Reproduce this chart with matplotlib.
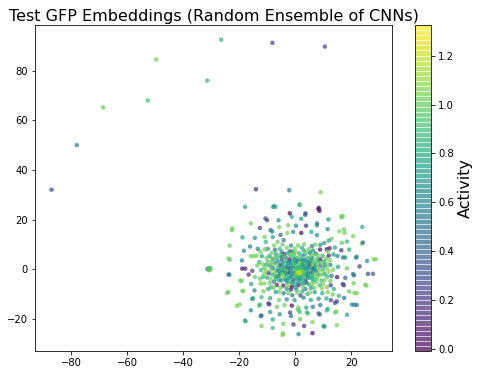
import numpy as np
import matplotlib
matplotlib.use("Agg")
import matplotlib.pyplot as plt
from matplotlib.colors import Normalize

far_pts = [(-87,32,.30),(-78,50,.55),(-68.6,65.2,1.0),(-52.6,68,.92),(-49.6,84.5,1.03),(-31.4,76,.85),
 (-26.4,92.5,.85),(-8.1,91.2,.25),(10.6,89.7,.25)]
outer_pts = [(-14,32.2,.15),(-2.1,31.8,.55),(9.1,31,1.03),(-17.9,25.1,.75),(-7.9,25.1,.85),(-7.5,25.4,.6),(-7,25,.85),
 (1.6,26.2,1.0),(1.6,25.8,.85),(8.5,24.7,.05),(8.7,23.5,.03),(8.3,24.2,.1),(-1.9,22.5,.03),(3.7,22.5,.3),(3.6,21.9,.35),
 (17,21.4,1.0),(16.7,20.8,1.02),(16.4,21.2,1.05),(-10.6,20.4,.3),(-10,19.7,.3),(-1.2,21.1,.8),(-5.9,19.7,.7),(2.2,20.3,.75),
 (11.9,20,.7),(-15.8,18.4,1.02),(-2.5,17.7,1.02),(7.8,18.4,.55),(7.8,17.7,.6),(-22.4,16.4,1.0),(-22.6,15.7,1.0),(-12.6,16.6,.25),
 (-5.7,16.9,1.02),(0.3,17.5,.6),(3.9,17.5,.2),(11.6,16.1,.6),(24,17,.8),(15.8,15.2,1.02),(17.5,16,1.0),(17.6,14.6,1.02),
 (-8.8,15.7,.5),(-8.2,15.2,.55),(-18.8,12.8,.78),(-14.4,12.6,.7),(-10.9,13,1.0),(-5.2,13.8,.4),(-2.8,14.6,1.05),(-.7,15,.6),
 (2.2,14.6,.05),(5.8,15,.8),(7.8,13.7,.7),(13,12.2,1.0),(20.7,13.3,1.05),(-23.4,9.5,1.0),(-8,13,.75),(-6.3,11,1.0),(-4.1,11.7,.5),
 (-19,3.5,.55),(-23.8,4.3,1.02),(-23.3,3.8,1.0),(-18.3,7.4,.6),(-16.1,9.1,.55),(-13.3,8.2,.5),(-9.8,8.2,.65),(-7.2,7.8,.5),
 (-4.8,6.9,.55),(-5.5,8.2,.85),(-1.5,9.5,.6),(-1.8,7.2,.3),(1,9.5,1.0),(3.2,10,1.0),(6,9.3,.55),(8.9,7.9,.05),(11.3,8,.1),
 (12.3,8.4,.08),(9,9.8,.7),(14.2,8.7,.8),(16.5,7.6,.2),(19.3,7.9,.8),(23.8,10.3,1.05),(24.2,10.7,.4),(16.7,10.6,1.0),(18.5,11.1,.85),
 (10.4,10.5,.7),(-15.8,5.2,1.02),(-14.9,5.2,1.05),(-13.8,5.4,1.0),(-11.9,5.2,.75),(-10.2,4.6,1.0),(-9.1,5.2,.8),(-8,4,.55),(-4.8,3.9,.25),
 (-2,3.9,.05),(3.4,5.8,.8),(9,3.9,.1),(12,5.4,.15),(13.7,5.9,.7),(15.1,5.3,.6),(17.9,4.7,.6),(17.1,4.7,.55),(22,5,.55),(21.7,4.6,.6),
 (25.7,3.3,.65),(28,4,1.05),(28.8,4,1.05),(10.3,3,.8),(7.4,6.3,.55),(5.5,5,1.0),(-31.3,0,.3),(-30.6,0,1.0),(-30.5,.3,1.02),(-30.3,-.2,1.0),
 (-30.8,.4,.95),(-30.2,.4,1.0),(-30.7,-.4,.98),(-31,0,.95),
 (-18.9,.2,.05),(-17.8,.2,.15),(-15.3,-.7,.25),(-16.6,-2.2,.2),(-23.8,-2.2,.5),(-23.5,-2.2,.55),(-13.5,1.5,1.0),(-12.8,2.8,.85),
 (-11.1,.5,1.0),(-9,1.4,.75),(-7.9,.4,.55),(-9.5,-1.6,.15),(-6.6,-.6,.7),(-5.5,1.5,.45),(-4.4,-.9,.1),(-3.1,1.2,.55),(-2,-1.3,.05),
 (18.5,.3,1.0),(23,1.1,.25),(15.3,.9,.75),(12.6,1.7,.6),(10.7,1.6,.55),(9,1.4,.45),(6.2,.2,.05),(7.5,-.7,.5),(4.8,1.8,.6),(3,1.5,.85),
 (15,-3.2,.05),(17.9,-3.5,.45),(21,-2.5,.4),(20.7,-2,.55),(26,-1.9,.3),(27.8,-1.9,.4),(13,-2.7,.5),(10.6,-2.1,.8),(8.3,-2.2,.6),
 (-14.3,-3.2,1.0),(-11.5,-3.1,.85),(-10,-3.4,.8),(-19.5,-4.6,1.02),(-19.1,-4.8,1.0),(-7.6,-5.1,.5),(-5.5,-3.5,1.0),(-3.7,-4,.6),
 (-15.7,-6,.8),(-12.3,-5.8,1.02),(-11,-5.8,1.05),(-8.5,-7.3,.88),(-6.5,-6.4,.15),(-4.2,-6.6,.1),(-1.2,-7,.05),(-1.5,-8.2,.1),
 (1.2,-6.5,.1),(4,-5.4,.15),(5.7,-7.6,.7),(8.8,-6.5,.85),(11.3,-7.3,1.02),(12.7,-6.5,.25),(13.8,-8,.8),(17.4,-6.5,.2),(17,-6,.25),
 (20.9,-5.7,1.0),(25,-6.3,1.05),(25.5,-6.6,1.02),(-23.8,-9.2,1.02),(-24.3,-9.6,1.0),(-18.5,-8.9,1.05),(-18.8,-8.7,1.02),(-14.5,-8.6,.6),
 (-9.6,-8,.8),(-6.9,-9.2,.7),(-4.1,-9.7,.55),(-1,-10.5,.55),(1.9,-10.6,.3),(4.4,-10,.85),(7,-9.3,.75),(9.7,-9.7,.8),(13.4,-10.2,1.0),
 (19.3,-9,1.0),(21.2,-9.6,1.05),(22,-9.7,1.05),(15.6,-10.8,.85),(17.5,-11.6,.55),(-15.4,-12,.75),(-15,-11.8,.7),(-12,-11.3,.88),
 (-8.9,-11.7,.75),(-5.8,-12.5,1.0),(-3,-12.2,.65),(-.2,-12.5,.7),(3,-11.5,.55),(5.6,-12.4,.8),(8.4,-11.9,.6),(11.2,-11.8,.8),
 (12.8,-12.5,.3),(14.3,-13.6,.25),(14.9,-13,.3),(20.3,-14.3,.6),(21.2,-14.4,.6),(22,-14.4,.55),(-19.8,-14.2,1.05),(-20.8,-14.8,1.05),
 (-12.8,-14.8,1.0),(-12.6,-14.3,.88),(-9.5,-13.9,.15),(-9.2,-14.2,.3),(-6.5,-15.2,1.0),(-3.8,-14.5,1.0),(-1.2,-14.7,.05),(4,-15.5,.8),
 (6.3,-15.2,.55),(9,-14.5,.5),(1.2,-15.5,1.0),(-15.8,-16.6,.65),(-8.9,-17.3,.7),(-1.8,-17.5,.25),(-1.5,-18.9,.5),(1,-16.3,1.0),
 (1.6,-17.2,.88),(4.6,-17.9,1.0),(4.2,-17.5,.85),(8.4,-17.9,.3),(8.8,-18.3,.45),(11.6,-16,.8),(11.3,-16.6,.85),(14.3,-17.5,1.0),
 (14.7,-17.1,1.02),(18.5,-18.4,.8),(-12,-18.7,.5),(-12.3,-18.9,.45),(-5.5,-18.2,.7),(-8,-20.3,.75),(-17.7,-21,.8),(-17.9,-20.7,.82),
 (1.8,-20.2,1.0),(6.2,-21.3,1.05),(-4.2,-22,1.0),(-.6,-22.3,.15),(3.2,-22.9,.2),(-12,-22.9,1.05),(-8,-23.7,.85),(10.1,-22.9,.75),
 (10.5,-23.2,.7),(14.9,-22.6,1.05),(-4.5,-26.5,1.05),(-4.3,-25.9,1.02),(1.2,-26.2,.6),(6.2,-25.8,.05)]
core_pts = [(-6,3,.8),(-5,1.8,.55),(-4.3,2.6,.7),(-3.4,4.7,.5),(-3.2,-2.5,.85),(-2.6,2.3,.75),(-2.4,.5,.6),(-1.9,-3.4,.7),(-1.7,5.4,.85),
 (-1.2,3,.6),(-1,-.8,.8),(-.8,1.5,.9),(-.6,-4.4,.2),(-.4,5.9,.9),(-.2,3.8,.75),(0,-2.4,.75),(.1,.6,.65),(.3,2.6,.8),(.4,-1,.95),
 (.6,4.3,.5),(.7,-3.9,.65),(.8,1.5,.95),(1,-.2,1.05),(1.1,-2.2,1.1),(1.2,.8,.85),(1.4,3.2,.75),(1.5,-1.3,1.32),(1.7,-.6,1.2),
 (1.8,-1.9,1.25),(1.9,.2,.9),(2,1.9,.8),(2.1,-3.3,.6),(2.3,-.9,1.1),(2.5,.9,.7),(2.7,-2.4,.85),(2.9,3.6,.9),(3.1,-.1,.65),(3.3,-1.4,.75),
 (3.5,-4.5,.3),(3.7,1,.7),(3.9,-2.7,.75),(4.2,-.8,.9),(4.4,2.9,.6),(4.7,-1.6,.45),(5,.8,.5),(5.3,-3.4,.85),(5.6,3.3,.95),(5.9,-1.4,.15),
 (6.3,-3,.8),(6.8,2.4,.75),(7.2,-4.2,.9),(-2.9,-5.3,.85),(-5.4,-1.9,.7),(-6.8,-3,.95),(-7,2.6,.6),(-4,6,.15),(-1,7,.6),(3.2,7.5,.8),
 (6.4,7.5,.7),(-3,-8,.7),(.5,-8.3,.85),(3.7,-8,.5),(6.5,-4.8,.9),(9.4,-4.6,.9),(-2.5,-1.7,.65),(-3.6,.2,.85),(.9,-5.6,.6),(2.6,-5.9,.7),
 (-.2,-6,.9),(-5.8,-4.6,.95),(4.9,-6.2,.8),(8,4,.8),(5.4,2,.3),(7.5,1.4,.9)]
dense_pts = [(-8.4,6.6,1.0),(-6.9,6,.75),(-5.6,5.6,1.0),(-4.2,5.2,1.05),(-2.8,6.4,.8),(-1.2,6.1,1.05),(.2,7,1.02),(1.5,6.4,.85),(2.6,5.4,.75),
 (4.2,6.7,1.05),(5.3,6.6,.6),(6.6,5.6,1.0),(8.2,5.5,1.05),(9.8,5.4,.85),(11,4.2,1.0),(12.4,3.6,1.05),(-9.8,3.2,1.0),(-8.8,2.8,1.05),(-7.4,4.6,1.05),
 (-6.4,4.4,.85),(-4.8,5,.7),(-3.1,3.2,.8),(-2.1,2.6,.65),(-.5,4.4,.85),(1.1,4.9,1.02),(2.1,3.9,.7),(3.5,3.8,.55),(4.6,4.4,.85),(6.1,4.2,.7),
 (7.2,3.4,1.05),(8.4,2.8,.85),(9.6,2.5,1.02),(11.4,2.2,1.05),(-11.6,2,1.05),(-10.3,1.8,.85),(-8.1,2,1.0),(-6.6,1.6,1.05),(-5.9,.3,.8),(-4.3,1,.75),
 (-2.9,.2,.6),(-1.6,1.4,.7),(-.3,2.4,.85),(.7,3,.7),(1.6,2.4,1.05),(2.9,2.4,.65),(3.9,2.4,.85),(5.1,2.8,.65),(6.2,1.9,1.05),(7,.9,.7),(8.2,.6,1.05),
 (9.9,.3,.85),(11.4,.4,1.05),(13.6,-.2,1.0),(-12.2,-.4,.85),(-10.4,-.5,1.05),(-8.7,-.2,1.0),(-7.4,-1.3,1.05),(-5.7,-.9,.6),(-4.8,-.1,.85),(-3.3,-.7,1.0),
 (-1.7,.2,.55),(-.9,.4,.75),(0,-.5,1),(.6,.2,.9),(1.5,.5,.85),(2.4,.3,.95),(3.5,.3,.8),(4.4,.2,.7),(5.6,-.3,.85),(6.8,-.2,.7),(8.8,-.6,1.05),
 (10.2,-1,1.0),(12,-1,1.05),(-11,-1.9,1.02),(-8.2,-2.2,.85),(-7.2,-2.4,1.0),(-6,-2.7,.6),(-4.5,-1.9,1.0),(-3.4,-1.5,.7),(-1.4,-2.1,.8),(-.5,-1.6,.7),
 (.5,-1.9,1.1),(1.1,-1.2,1.15),(2.1,-1.4,1.2),(2.8,-1.1,1),(3.6,-2.1,.9),(4.5,-2.4,.7),(5.2,-2.2,.85),(6.6,-1.9,.9),(7.5,-2.2,1.05),(9.4,-2.4,1.02),
 (11.6,-3,.85),(-12.6,-3.9,1.0),(-8.7,-4,1.05),(-6.9,-3.9,.8),(-5,-4.6,.65),(-3.9,-3.1,1.0),(-2.4,-3.6,.8),(-1.2,-3,.65),(-.1,-3.4,.9),(1,-3.1,.85),
 (1.6,-3.9,.75),(2.7,-3.8,.9),(4.5,-3.6,.7),(6.1,-4,.85),(7.9,-3.6,1.0),(10.6,-4.3,1.05),(12.6,-4.8,1.0),(-9.1,-5.6,1.0),(-3,-4.6,.7),(-1.7,-5.2,.85),
 (-.9,-5.4,.75),(1.9,-5,.8),(3.4,-5.7,.9),(6.2,-6,1.02),(7.6,-5.2,1.05),(10,-6,1.05),(-7.6,-7.4,1.05),(-5.2,-7.5,1.0),(-2.6,-6.8,1.05),(.1,-7.4,.7),
 (2.9,-7.3,1.0),(6.9,-7.5,1.02),(9.6,-7.8,1.05),(-11.3,-8.9,1.05),(-5.7,-9.2,1.02),(-2.4,-9.6,1.0),(.8,-9.4,1.02),(2.6,-9,.8),(5.3,-9.4,1.05),(11.7,-9.3,1.05),
 (-10.9,8,1.0),(-7.5,9.5,1.05),(-4.5,9.9,1.0),(-3,8.6,1.02),(-.2,8.3,1.05),(2.4,8.6,.85),(4.9,8.1,1.02),(7.2,9.9,1.05),(11.7,7,1.05),(-12.4,7,1.02),(-10.5,11,.85),(12,11.5,.8)]

pts = np.array(far_pts + outer_pts + core_pts + dense_pts)
x_vals, y_vals, activity = pts[:, 0], pts[:, 1], pts[:, 2]

title = "Test GFP Embeddings (Random Ensemble of CNNs)"
cbar_label = "Activity"

fig = plt.figure(figsize=(480/72, 375/72), dpi=72)
ax = fig.add_axes([35/480, 1-351/375, 357/480, 326/375])
cax = fig.add_axes([415/480, 1-351/375, 16/480, 326/375])
cmap = plt.get_cmap('viridis', 64)
norm = Normalize(vmin=-0.007, vmax=1.325)
sc = ax.scatter(x_vals, y_vals, c=activity, cmap=cmap, norm=norm, s=20, alpha=0.7, linewidths=0)
ax.set_xlim(-92.9, 34.6)
ax.set_ylim(-33, 98.4)
ax.set_xticks([-80,-60,-40,-20,0,20])
ax.set_yticks([-20,0,20,40,60,80])
ax.set_title(title, fontsize=16, pad=4)
cb = fig.colorbar(sc, cax=cax)
cb.set_ticks([0,.2,.4,.6,.8,1.0,1.2])
cb.set_label(cbar_label, fontsize=16)
cb.solids.set_edgecolor((1, 1, 1, 0.12))
cb.solids.set_linewidth(0.5)
fig.savefig("out.png", dpi=72)
